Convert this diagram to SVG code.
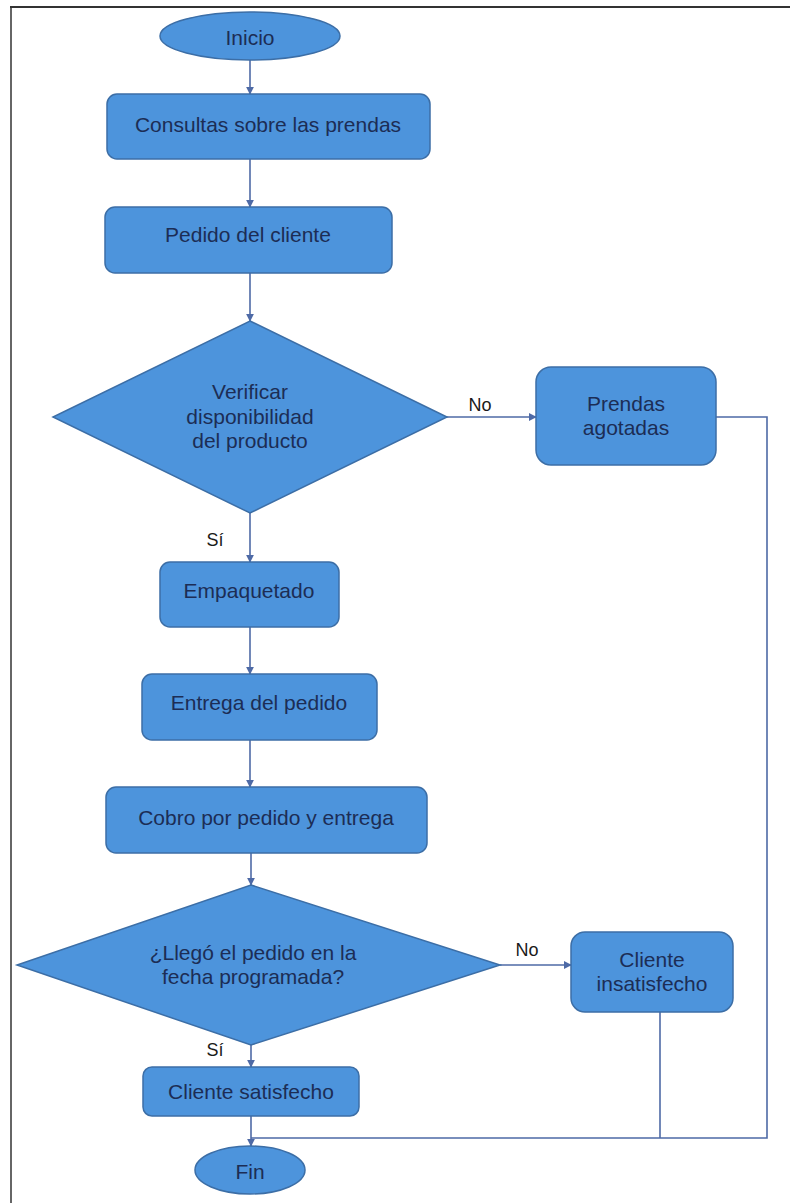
<svg xmlns="http://www.w3.org/2000/svg" width="790" height="1203" viewBox="0 0 790 1203">
<defs>
<style>
.shape{fill:#4d94dc;stroke:#3c6ea6;stroke-width:1.5}
.t{font-family:"Liberation Sans",Arial,sans-serif;font-size:21px;fill:#1c2d55;text-anchor:middle;dominant-baseline:central}
.lbl{font-family:"Liberation Sans",Arial,sans-serif;font-size:18px;fill:#1a1a1a;text-anchor:middle;dominant-baseline:central}
.c{fill:none;stroke:#4e6aa6;stroke-width:1.6}
.ca{fill:none;stroke:#4e6aa6;stroke-width:1.6;marker-end:url(#ah)}
</style>
<marker id="ah" viewBox="0 0 10 10" refX="9" refY="5" markerWidth="5" markerHeight="5" orient="auto" markerUnits="strokeWidth">
<path d="M0,0 L10,5 L0,10 z" fill="#4e6aa6"/>
</marker>
</defs>
<rect x="0" y="0" width="790" height="1203" fill="#ffffff"/>
<g id="frame">
<line x1="10" y1="7" x2="790" y2="7" stroke="#333" stroke-width="2"/>
<line x1="11" y1="7" x2="11" y2="1203" stroke="#333" stroke-width="1.5"/>
</g>
<g id="connectors">
<line class="ca" x1="250" y1="60" x2="250" y2="94"/>
<line class="ca" x1="250" y1="159" x2="250" y2="207"/>
<line class="ca" x1="250" y1="273" x2="250" y2="321"/>
<line class="ca" x1="447" y1="417" x2="536" y2="417"/>
<line class="ca" x1="250" y1="513" x2="250" y2="562"/>
<line class="ca" x1="250" y1="627" x2="250" y2="674"/>
<line class="ca" x1="250" y1="740" x2="250" y2="787"/>
<line class="ca" x1="251" y1="853" x2="251" y2="885"/>
<line class="ca" x1="500" y1="965" x2="571" y2="965"/>
<line class="ca" x1="251" y1="1022" x2="251" y2="1067"/>
<line class="ca" x1="251" y1="1116" x2="251" y2="1146"/>
<polyline class="c" points="716,417 767,417 767,1138 251,1138"/>
<line class="c" x1="660" y1="1012" x2="660" y2="1138"/>
<text class="lbl" x="480" y="405">No</text>
<text class="lbl" x="215" y="540">Sí</text>
<text class="lbl" x="527" y="950">No</text>
<text class="lbl" x="215" y="1050">Sí</text>
</g>
<g id="inicio">
<ellipse class="shape" cx="250" cy="36" rx="90" ry="24"/>
<text class="t" x="250" y="37">Inicio</text>
</g>
<g id="consultas">
<rect class="shape" x="107" y="94" width="323" height="65" rx="10"/>
<text class="t" x="268" y="124">Consultas sobre las prendas</text>
</g>
<g id="pedido">
<rect class="shape" x="105" y="207" width="287" height="66" rx="10"/>
<text class="t" x="248" y="234">Pedido del cliente</text>
</g>
<g id="verificar">
<polygon class="shape" points="250,321 447,417 250,513 53,417"/>
<text class="t" x="250" y="391">Verificar</text>
<text class="t" x="250" y="416">disponibilidad</text>
<text class="t" x="250" y="440">del producto</text>
</g>
<g id="agotadas">
<rect class="shape" x="536" y="367" width="180" height="98" rx="15"/>
<text class="t" x="626" y="403">Prendas</text>
<text class="t" x="626" y="427">agotadas</text>
</g>
<g id="empaquetado">
<rect class="shape" x="160" y="562" width="179" height="65" rx="10"/>
<text class="t" x="249" y="590">Empaquetado</text>
</g>
<g id="entrega">
<rect class="shape" x="142" y="674" width="235" height="66" rx="10"/>
<text class="t" x="259" y="702">Entrega del pedido</text>
</g>
<g id="cobro">
<rect class="shape" x="106" y="787" width="321" height="66" rx="10"/>
<text class="t" x="266" y="817">Cobro por pedido y entrega</text>
</g>
<g id="llego">
<polygon class="shape" points="251,885 500,965 251,1045 17,965"/>
<text class="t" x="253" y="952">¿Llegó el pedido en la</text>
<text class="t" x="253" y="976">fecha programada?</text>
</g>
<g id="insatisfecho">
<rect class="shape" x="571" y="932" width="162" height="80" rx="14"/>
<text class="t" x="652" y="959">Cliente</text>
<text class="t" x="652" y="983">insatisfecho</text>
</g>
<g id="satisfecho">
<rect class="shape" x="143" y="1067" width="216" height="49" rx="9"/>
<text class="t" x="251" y="1091">Cliente satisfecho</text>
</g>
<g id="fin">
<ellipse class="shape" cx="250" cy="1170" rx="55" ry="24"/>
<text class="t" x="250" y="1171">Fin</text>
</g>
</svg>
